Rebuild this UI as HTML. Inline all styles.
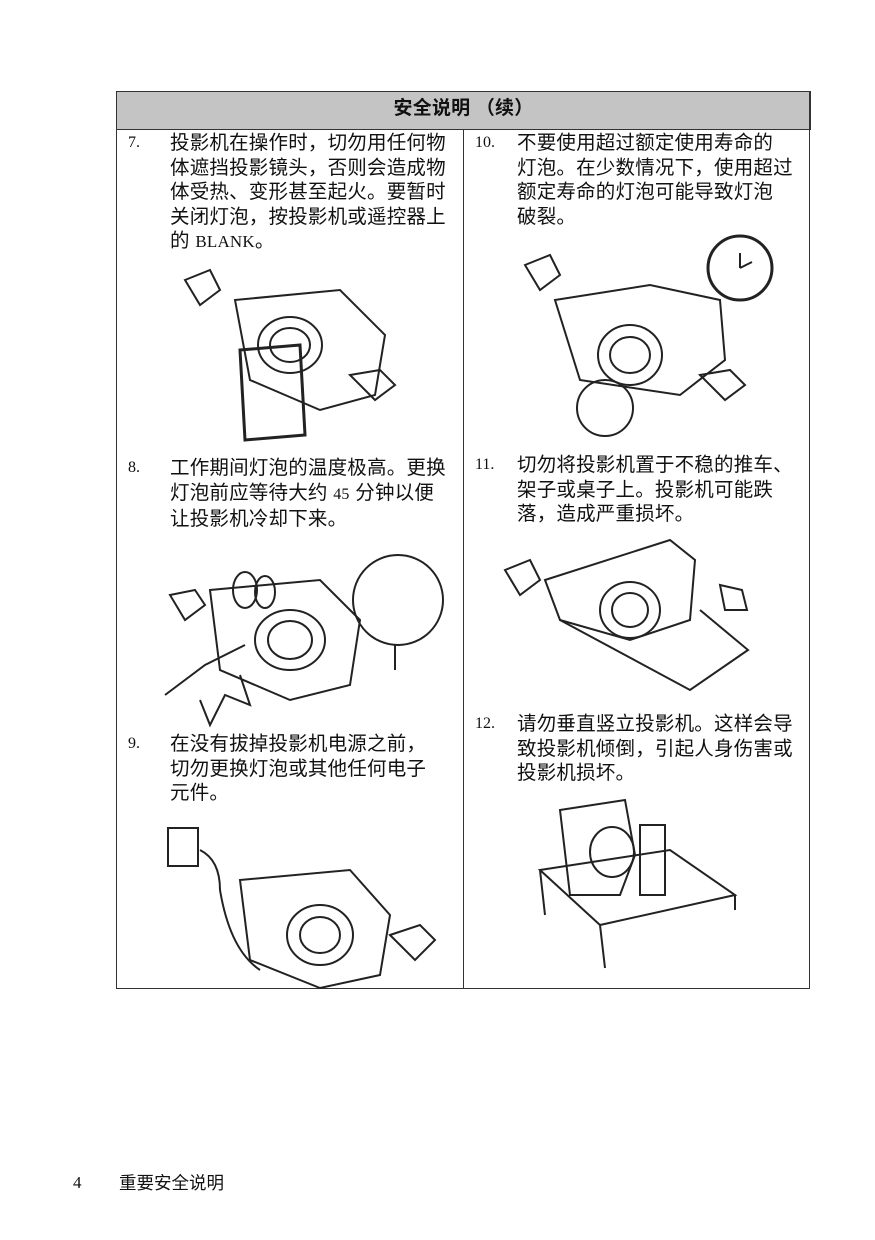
<!DOCTYPE html>
<html><head><meta charset="utf-8"><style>
body{margin:0;width:875px;height:1240px;background:#fff;position:relative;font-family:"Liberation Sans","Noto Sans CJK SC",sans-serif;color:#111}
.t{position:absolute;font-size:19.5px;line-height:24.5px;letter-spacing:0.2px;white-space:nowrap}
.n{position:absolute;font-family:"Liberation Serif",serif;font-size:16px;line-height:24.5px}
.ln{position:absolute;background:#333}
svg{position:absolute}
</style></head><body>
<div style="position:absolute;left:116px;top:91px;width:693px;height:37px;background:#c4c4c4;border:1px solid #333"></div>
<div class="t" style="left:116px;top:97px;width:695px;text-align:center;font-weight:bold;font-size:19px">安全说明 （续）</div>
<div class="ln" style="left:116px;top:91px;width:1px;height:898px"></div>
<div class="ln" style="left:809px;top:91px;width:1px;height:898px"></div>
<div class="ln" style="left:116px;top:988px;width:694px;height:1px"></div>
<div class="ln" style="left:463px;top:129px;width:1px;height:860px"></div>

<div class="n" style="left:128px;top:131px">7.</div>
<div class="t" style="left:170px;top:131px">投影机在操作时，切勿用任何物<br>体遮挡投影镜头，否则会造成物<br>体受热、变形甚至起火。要暂时<br>关闭灯泡，按投影机或遥控器上<br>的 <span style="font-family:'Liberation Serif',serif;font-size:17px">BLANK</span>。</div>

<div class="n" style="left:128px;top:456px">8.</div>
<div class="t" style="left:170px;top:456px">工作期间灯泡的温度极高。更换<br>灯泡前应等待大约 <span style="font-family:'Liberation Serif',serif;font-size:16px">45</span> 分钟以便<br>让投影机冷却下来。</div>

<div class="n" style="left:128px;top:732px">9.</div>
<div class="t" style="left:170px;top:732px">在没有拔掉投影机电源之前，<br>切勿更换灯泡或其他任何电子<br>元件。</div>

<div class="n" style="left:475px;top:131px">10.</div>
<div class="t" style="left:517px;top:131px">不要使用超过额定使用寿命的<br>灯泡。在少数情况下，使用超过<br>额定寿命的灯泡可能导致灯泡<br>破裂。</div>

<div class="n" style="left:475px;top:453px">11.</div>
<div class="t" style="left:517px;top:453px">切勿将投影机置于不稳的推车、<br>架子或桌子上。投影机可能跌<br>落，造成严重损坏。</div>

<div class="n" style="left:475px;top:712px">12.</div>
<div class="t" style="left:517px;top:712px">请勿垂直竖立投影机。这样会导<br>致投影机倾倒，引起人身伤害或<br>投影机损坏。</div>

<div class="t" style="left:73px;top:1171px;font-size:17px"><span style="font-family:'Liberation Serif',serif">4</span></div>
<div class="t" style="left:119px;top:1171px;font-size:17.5px;letter-spacing:0">重要安全说明</div>

<svg width="875" height="1240" style="left:0;top:0" fill="none" stroke="#222" stroke-width="2">
<path d="M235 300 L340 290 L385 335 L375 395 L320 410 L250 380 Z"/>
<ellipse cx="290" cy="345" rx="32" ry="28"/><ellipse cx="290" cy="345" rx="20" ry="17"/>
<path d="M240 350 L300 345 L305 435 L245 440 Z" stroke-width="3"/>
<path d="M185 280 l25 -10 l10 20 l-20 15 z"/><path d="M350 375 l30 -5 l15 15 l-20 15 z"/>
<path d="M210 590 L320 580 L360 620 L350 685 L290 700 L220 670 Z"/>
<ellipse cx="290" cy="640" rx="35" ry="30"/><ellipse cx="290" cy="640" rx="22" ry="19"/>
<ellipse cx="245" cy="590" rx="12" ry="18"/><ellipse cx="265" cy="592" rx="10" ry="16"/>
<circle cx="398" cy="600" r="45"/><path d="M395 645 l0 25"/>
<path d="M165 695 l40 -30 l40 -20 M200 700 l10 25 l15 -30 l25 10 l-10 -30"/>
<path d="M170 595 l25 -5 l10 15 l-20 15 z"/>
<path d="M240 880 L350 870 L390 915 L380 975 L320 988 L250 960 Z"/>
<ellipse cx="320" cy="935" rx="33" ry="30"/><ellipse cx="320" cy="935" rx="20" ry="18"/>
<rect x="168" y="828" width="30" height="38"/><path d="M200 850 q20 10 20 40 q10 60 40 80"/>
<path d="M390 935 l30 -10 l15 15 l-20 20 z"/>
<path d="M555 300 L650 285 L720 300 L725 360 L680 395 L580 380 Z"/>
<ellipse cx="630" cy="355" rx="32" ry="30"/><ellipse cx="630" cy="355" rx="20" ry="18"/>
<circle cx="605" cy="408" r="28"/><circle cx="740" cy="268" r="32" stroke-width="3"/>
<path d="M740 268 l0 -15 M740 268 l12 -6"/>
<path d="M525 265 l25 -10 l10 20 l-20 15 z"/><path d="M700 375 l30 -5 l15 15 l-20 15 z"/>
<path d="M545 580 L670 540 L695 560 L690 620 L630 640 L560 620 Z"/>
<ellipse cx="630" cy="610" rx="30" ry="28"/><ellipse cx="630" cy="610" rx="18" ry="17"/>
<path d="M560 620 L690 690 L748 650 L700 610"/>
<path d="M505 570 l25 -10 l10 20 l-20 15 z"/><path d="M720 585 l22 5 l5 20 l-22 0 z"/>
<path d="M560 810 L625 800 L635 855 L620 895 L570 895 Z"/>
<ellipse cx="612" cy="852" rx="22" ry="25"/>
<path d="M540 870 L670 850 L735 895 L600 925 Z M540 870 L545 915 M600 925 L605 968 M735 895 L735 910"/>
<path d="M640 825 l25 0 l0 70 l-25 0 z"/>
</svg>
</body></html>
